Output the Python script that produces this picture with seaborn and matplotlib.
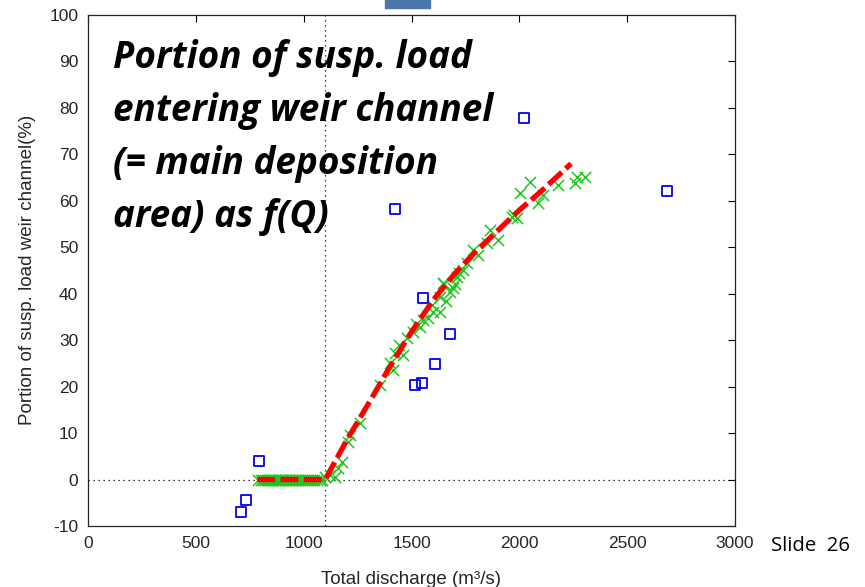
import matplotlib
matplotlib.use("Agg")
import matplotlib.pyplot as plt
import seaborn as sns
import pandas as pd
from matplotlib.patches import Rectangle

# ---- data ----
blue_q = [709, 732, 793, 1423, 2021, 1553, 1678, 1609, 1516, 1548, 2684]
blue_p = [-7.0, -4.4, 4.0, 58.2, 77.8, 39.0, 31.3, 24.9, 20.4, 20.8, 62.1]

green_flat_q = [790, 800, 812, 820, 830, 838, 845, 852, 860, 866, 872, 880, 886, 893,
                900, 905, 912, 920, 928, 935, 942, 950, 958, 965, 973, 980, 990,
                1000, 1010, 1020, 1030, 1040, 1050, 1062, 1075, 1085]
green_flat_p = [0.0] * len(green_flat_q)

green_rise_q = [1099, 1122, 1145, 1159, 1178, 1205, 1215, 1261, 1354, 1400, 1414, 1423,
                1440, 1460, 1479, 1507, 1520, 1539, 1553, 1576, 1595, 1600, 1632, 1646,
                1632, 1650, 1660, 1678, 1692, 1700, 1711, 1720, 1739, 1757, 1785, 1808,
                1850, 1864, 1901, 1966, 1975, 1989, 2003, 2049, 2086, 2109, 2179, 2258,
                2267, 2304]
green_rise_p = [0.5, 1.0, 0.5, 2.5, 3.8, 8.1, 9.5, 12.2, 20.4, 25.0, 23.6, 27.2,
                29.0, 26.8, 30.5, 31.8, 33.5, 32.8, 34.3, 34.8, 37.6, 36.0, 36.1, 42.3,
                39.3, 42.0, 38.5, 40.4, 41.2, 42.0, 43.6, 44.5, 45.1, 46.6, 49.4, 48.3,
                50.9, 53.7, 51.6, 56.5, 57.0, 56.3, 61.7, 64.1, 59.5, 61.2, 63.4, 63.8,
                65.1, 65.1]

fit_q = [785, 1100, 1200, 1300, 1400, 1500, 1600, 1700, 1800, 1900, 2000, 2100, 2240]
fit_p = [0.0, 0.0, 8.5, 16.3, 24.3, 31.8, 38.6, 44.3, 49.2, 53.6, 58.0, 62.0, 68.0]

x_ticks = [0, 500, 1000, 1500, 2000, 2500, 3000]
y_ticks = [-10, 0, 10, 20, 30, 40, 50, 60, 70, 80, 90, 100]

title_lines = ["Portion of susp. load", "entering weir channel",
               "(= main deposition", "area) as f(Q)"]

# ---- figure ----
sns.set_theme(style="white")
plt.rcParams['font.family'] = ['Liberation Sans', 'DejaVu Sans']
plt.rcParams['axes.unicode_minus'] = False

W, H = 865, 587
fig = plt.figure(figsize=(W / 100, H / 100), dpi=100)
ax = fig.add_axes([88 / W, 1 - 526 / H, (735 - 88) / W, (526 - 15) / H])

green = pd.DataFrame({"q": green_flat_q + green_rise_q, "p": green_flat_p + green_rise_p})
blue = pd.DataFrame({"q": blue_q, "p": blue_p})
fit = pd.DataFrame({"q": fit_q, "p": fit_p})

ax.axvline(1100, color="black", linestyle=(0, (1, 3)), linewidth=0.9, zorder=1)
ax.axhline(0, color="black", linestyle=(0, (1, 3)), linewidth=0.9, zorder=1)

sns.scatterplot(data=green, x="q", y="p", marker="x", color="#1ec81e", s=65,
                linewidth=1.1, ax=ax, zorder=3)
sns.scatterplot(data=blue, x="q", y="p", marker="s", facecolor="none",
                edgecolor="#0000ee", s=50, linewidth=1.3, ax=ax, zorder=3)
sns.lineplot(data=fit, x="q", y="p", color="#ff0000", linewidth=3.8,
             dashes=False, ax=ax, zorder=4, sort=False)
ax.lines[-1].set_dashes((3.4, 1.0))

ax.set_xlim(0, 3000)
ax.set_ylim(-10, 100)
ax.set_xticks(x_ticks)
ax.set_yticks(y_ticks)
ax.tick_params(direction="in", length=5, width=0.8, top=True, right=True,
               labelsize=12.5, colors="black", labelcolor="#262626", pad=7)
for s in ax.spines.values():
    s.set_color("#262626")
    s.set_linewidth(0.9)
ax.set_xlabel("")
ax.set_ylabel("")

fig.text(411 / W, 1 - 584 / H, "Total discharge (m³/s)", ha="center", va="baseline",
         fontsize=13.5, color="#262626")
fig.text(28 / W, 1 - 270 / H, "Portion of susp. load weir channel(%)", ha="center",
         va="center", rotation=90, fontsize=13.5, color="#262626")

for i, line in enumerate(title_lines):
    fig.text(113 / W, 1 - (68 + 53 * i) / H, line, ha="left", va="baseline",
             fontsize=26.6, fontweight="bold", fontstyle="italic",
             family=["Open Sans", "DejaVu Sans"], color="black")

fig.text(771 / W, 1 - 551 / H, "Slide  26", ha="left", va="baseline",
         fontsize=14.6, family=["Open Sans", "DejaVu Sans"], color="black")

fig.patches.append(Rectangle((385 / W, 1 - 8 / H), 45 / W, 8 / H,
                             transform=fig.transFigure, color="#4a76a8", zorder=5))

fig.savefig("out.png", dpi=100)
